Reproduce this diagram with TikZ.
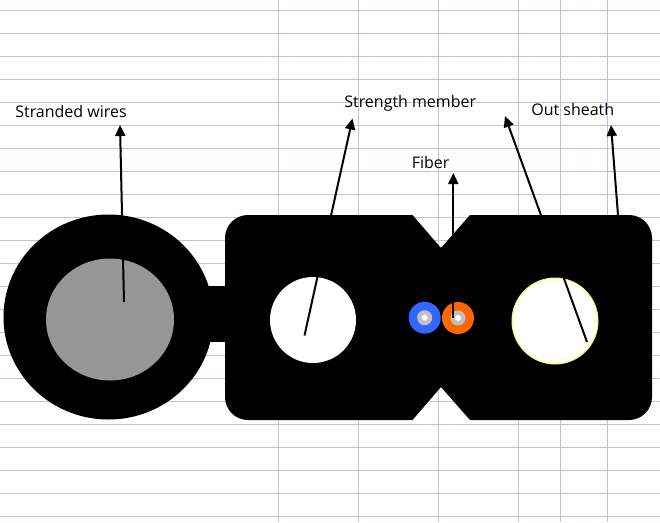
\documentclass[tikz,border=0pt]{standalone}
\usepackage{fontspec}
\setmainfont{Open Sans}
\usetikzlibrary{arrows.meta}

\definecolor{gridline}{RGB}{190,194,224}
\definecolor{fiberblue}{RGB}{51,102,255}
\definecolor{fiberorange}{RGB}{255,102,0}
\definecolor{wiregray}{RGB}{150,150,150}
\definecolor{coregray}{RGB}{192,192,192}

\tikzset{
  gridrule/.style={gridline, line width=0.03cm},
  sheath/.style={fill=black, draw=none},
  pointer/.style={-{Triangle[length=0.22cm,width=0.2cm]}, line width=0.04cm},
  caption/.style={inner sep=0pt, font=\fontsize{9.1}{11}\selectfont},
  bore/.style={circle, minimum size=1.72cm, inner sep=0pt, fill=white},
  fiberbody/.style={circle, minimum size=0.64cm, inner sep=0pt},
  fibercore/.style={circle, minimum size=0.3cm, inner sep=0pt, fill=coregray},
  fiberglass/.style={circle, minimum size=0.12cm, inner sep=0pt, fill=white}
}

\begin{document}
\begin{tikzpicture}[x=0.02cm,y=-0.02cm]
    \useasboundingbox (0,0) rectangle (660,522) ;
    \fill[white] (0,0) rectangle (660,522) ;
    % ruled sheet
    \foreach \row in {0,...,22} {
      \draw[gridrule] (0,10.3+23*\row) -- (660,10.3+23*\row) ;
    }
    \foreach \col in {278.3,358.3,438.3,518.3,560.3,607.3} {
      \draw[gridrule] (\col,0) -- (\col,522) ;
    }
    % cable outline
    \fill[sheath] (108.5,317) ellipse [x radius=105, y radius=102.5] ;
    \fill[sheath] (205,285.5) rectangle (235,342) ;
    \fill[sheath, rounded corners=0.46cm] (225,317) -- (225,215) -- (300,215)
      [sharp corners] -- (412.5,215) -- (441,248) -- (470,215)
      [rounded corners=0.46cm] -- (652,215) -- (652,420)
      [sharp corners] -- (470,420) -- (441,387) -- (412.5,420)
      [rounded corners=0.46cm] -- (225,420) -- cycle ;
    % inner parts
    \fill[wiregray] (110,319.5) ellipse [x radius=64, y radius=61] ;
    \node[bore] (leftbore) at (313,320) {} ;
    \node[bore, draw=yellow!70!white, line width=0.02cm] (rightbore) at (555,321) {} ;
    \node[fiberbody, fill=fiberblue] (bluefiber) at (424.7,317.7) {} ;
    \node[fibercore] at (bluefiber) {} ;
    \node[fiberglass] at (bluefiber) {} ;
    \node[fiberbody, fill=fiberorange] (orangefiber) at (458,318) {} ;
    \node[fibercore] at (orangefiber) {} ;
    \node[fiberglass] at (orangefiber) {} ;
    % labels
    \node[caption, anchor=west] (wireslabel) at (15,111.5) {Stranded wires} ;
    \node[caption, anchor=west] (memberlabel) at (344,103) {Strength member} ;
    \node[caption, anchor=west] (fiberlabel) at (411.5,162.5) {Fiber} ;
    \node[caption, anchor=west] (sheathlabel) at (531,109.5) {Out sheath} ;
    % pointers
    \coordinate (wirestart) at (124,302) ;
    \coordinate (wiretip) at (120,125) ;
    \coordinate (memberstart) at (304.5,335.5) ;
    \coordinate (membertip) at (352.5,118.5) ;
    \coordinate (rightstart) at (587,342) ;
    \coordinate (righttip) at (505,116) ;
    \coordinate (fiberstart) at (453.3,318) ;
    \coordinate (fibertip) at (453.3,173) ;
    \coordinate (sheathstart) at (618,215) ;
    \coordinate (sheathtip) at (611,125) ;
    \draw[pointer] (wirestart) -- (wiretip) ;
    \draw[pointer] (memberstart) -- (membertip) ;
    \draw[pointer] (rightstart) -- (righttip) ;
    \draw[pointer] (fiberstart) -- (fibertip) ;
    \draw[pointer] (sheathstart) -- (sheathtip) ;
\end{tikzpicture}
\end{document}
